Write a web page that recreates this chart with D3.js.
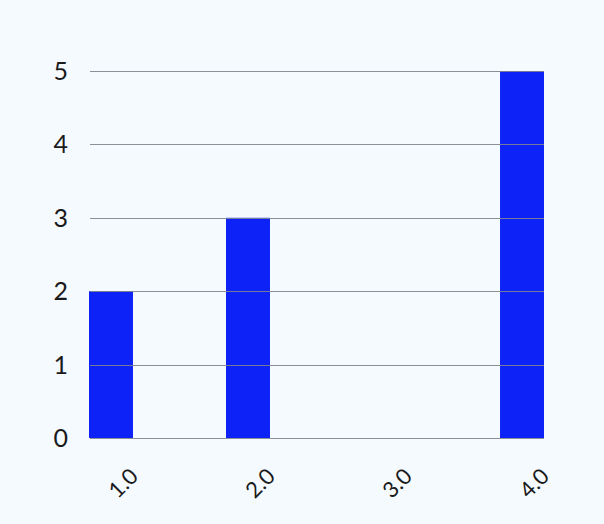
<!DOCTYPE html>
<html><head><meta charset="utf-8">
<script src="https://cdn.jsdelivr.net/npm/d3@7"></script>
<style>body{margin:0;background:#f5faff;} svg{display:block;}</style>
</head><body>
<svg id="c" width="604" height="524"></svg>
<script>
const categories = ["1.0", "2.0", "3.0", "4.0"];
const values = [2, 3, 0, 5];
const yTicks = [0, 1, 2, 3, 4, 5];

const svg = d3.select("#c");
svg.append("rect").attr("width", 604).attr("height", 524).attr("fill", "#f5faff");

const x = d3.scaleBand().domain(categories).range([89, 544]).paddingInner(0.679).paddingOuter(0);
const y = d3.scaleLinear().domain([0, 5]).range([438, 71]);

// bars
svg.append("g").selectAll("rect").data(values).join("rect")
  .attr("x", (d, i) => x(categories[i]))
  .attr("width", x.bandwidth())
  .attr("y", d => y(d))
  .attr("height", d => y(0) - y(d))
  .attr("fill", "#0d22f7");

// gridlines
svg.append("g").selectAll("line").data(yTicks).join("line")
  .attr("x1", 90).attr("x2", 544)
  .attr("y1", d => Math.round(y(d)) + 0.5).attr("y2", d => Math.round(y(d)) + 0.5)
  .attr("stroke", "#7f848c").attr("stroke-width", 1).attr("stroke-opacity", 0.9);

// y labels
svg.append("g").selectAll("text").data(yTicks).join("text")
  .attr("x", 68).attr("y", d => y(d))
  .attr("dy", "0.36em")
  .attr("text-anchor", "end")
  .attr("font-family", "Lato, 'Open Sans', sans-serif")
  .attr("font-size", 25)
  .attr("fill", "#1a1a1a")
  .text(d => d);

// x labels
svg.append("g").selectAll("text").data(categories).join("text")
  .attr("transform", d => `translate(${x(d) + x.bandwidth()/2 + 12},${483}) rotate(-45)`)
  .attr("text-anchor", "middle")
  .attr("dy", "0.36em")
  .attr("font-family", "Lato, 'Open Sans', sans-serif")
  .attr("font-size", 22)
  .attr("fill", "#1a1a1a")
  .text(d => d);
</script>
</body></html>
